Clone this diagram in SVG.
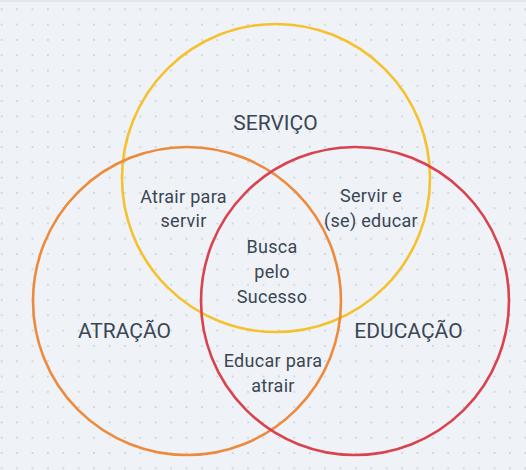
<svg xmlns="http://www.w3.org/2000/svg" width="526" height="470" viewBox="0 0 526 470">
  <defs>
    <pattern id="dots" patternUnits="userSpaceOnUse" x="-6" y="1.65" width="15.4" height="15.3">
      <circle cx="7.7" cy="7.65" r="1" fill="#c9cfd7"/>
    </pattern>
  </defs>
  <style>
    .ring { fill: none; stroke-width: 2.6; }
    .big { font-family: Roboto, "Liberation Sans", sans-serif; font-size: 21px; fill: #3a4654; text-anchor: middle; }
    .small { font-family: Roboto, "Liberation Sans", sans-serif; font-size: 18px; fill: #3a4654; text-anchor: middle; letter-spacing: 0.3px; }
  </style>
  <rect width="526" height="470" fill="#eff3f7"/>
  <rect width="526" height="470" fill="url(#dots)"/>
  <rect width="526" height="2" fill="#e3e7eb"/>

  <g id="servico">
    <circle class="ring" cx="276" cy="178" r="154" stroke="#f6c12f"/>
    <text class="big" x="275.5" y="129.5">SERVIÇO</text>
  </g>
  <g id="atracao">
    <circle class="ring" cx="187" cy="301" r="154" stroke="#ee8a3b"/>
    <text class="big" x="124.5" y="337.7">ATRAÇÃO</text>
  </g>
  <g id="educacao">
    <circle class="ring" cx="355" cy="301" r="154" stroke="#d9434f"/>
    <text class="big" x="408.5" y="338">EDUCAÇÃO</text>
  </g>
  <g id="connectors"/>

  <g id="atrair-para-servir">
    <text class="small" x="183.5" y="202.5">Atrair para</text>
    <text class="small" x="183.5" y="226.8">servir</text>
  </g>
  <g id="servir-e-educar">
    <text class="small" x="371" y="202">Servir e</text>
    <text class="small" x="371" y="226.8">(se) educar</text>
  </g>
  <g id="busca-pelo-sucesso">
    <text class="small" x="272" y="252.8">Busca</text>
    <text class="small" x="272" y="277.7">pelo</text>
    <text class="small" x="272" y="303.3">Sucesso</text>
  </g>
  <g id="educar-para-atrair">
    <text class="small" x="273" y="366.7">Educar para</text>
    <text class="small" x="273" y="391.5">atrair</text>
  </g>
</svg>
